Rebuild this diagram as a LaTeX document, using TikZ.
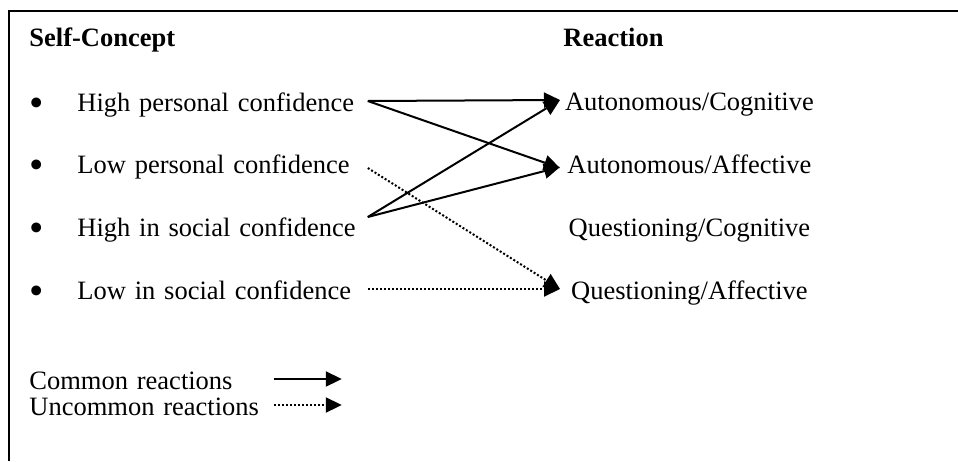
\documentclass[tikz,border=0pt]{standalone}
\usepackage{fontspec}
\setmainfont{Liberation Serif}
\usetikzlibrary{arrows.meta,positioning}

\newcommand{\itemdot}{\makebox[24pt][l]{\raisebox{-2.5pt}{\fontsize{20.5}{20}\selectfont\textbullet}}}

\begin{document}
\begin{tikzpicture}[
  x=0.5pt,y=-0.5pt,
  font=\fontsize{13.25}{16}\selectfont,
  head/.style={anchor=base west,inner sep=0pt,font=\fontsize{13.25}{16}\selectfont\bfseries},
  item/.style={anchor=west,inner sep=0pt,text height=10pt,text depth=0pt,text width=169pt,align=left},
  reaction/.style={anchor=west,inner sep=0pt,text height=10pt,text depth=0pt,text width=129pt,align=center},
  key/.style={anchor=west,inner sep=0pt,text height=10pt,text depth=0pt,text width=122pt,align=left},
  common/.style={-{Triangle[length=8pt,width=7.5pt]},line width=1pt},
  uncommon/.style={-{Triangle[length=8pt,width=7.5pt]},line width=1pt,dash pattern=on 1pt off 1pt}
]
\useasboundingbox (0,0) rectangle (958,461);
% open frame: top and left side only
\draw[line width=1pt] (958,11) -- (9,11) -- (9,461);

\node[head] (selfhead) at (29,46) {Self-Concept};
\node[head] (reacthead) at (563,46) {Reaction};

\node[item] (hpc) at (29,101) {\itemdot High personal confidence};
\node[item] (lpc) at (29,163) {\itemdot Low personal confidence};
\node[item] (hsc) at (29,226) {\itemdot High in social confidence};
\node[item] (lsc) at (29,289) {\itemdot Low in social confidence};

\node[reaction] (acog) at (560,100) {Autonomous/Cognitive};
\node[reaction] (aaff) at (560,163) {Autonomous/Affective};
\node[reaction] (qcog) at (560,226) {Questioning/Cognitive};
\node[reaction] (qaff) at (560,289) {Questioning/Affective};

\draw[common] (hpc.east) -- (acog.west);
\draw[common] (hpc.east) -- ([yshift=-2.5pt]aaff.west);
\draw[common] ([yshift=4.5pt]hsc.east) -- (acog.west);
\draw[common] ([yshift=4.5pt]hsc.east) -- ([yshift=-2pt]aaff.west);
\draw[uncommon] ([yshift=-2.5pt]lpc.east) -- (qaff.west);
\draw[uncommon] (lsc.east) -- (qaff.west);

% key
\node[key] (lcommon) at (29,379) {Common reactions};
\node[key] (luncommon) at (29,405) {Uncommon reactions};
\coordinate[right=34pt of lcommon.east] (lcommonend);
\coordinate[right=34pt of luncommon.east] (luncommonend);
\draw[common] (lcommon.east) -- (lcommonend);
\draw[uncommon] (luncommon.east) -- (luncommonend);
\end{tikzpicture}
\end{document}
